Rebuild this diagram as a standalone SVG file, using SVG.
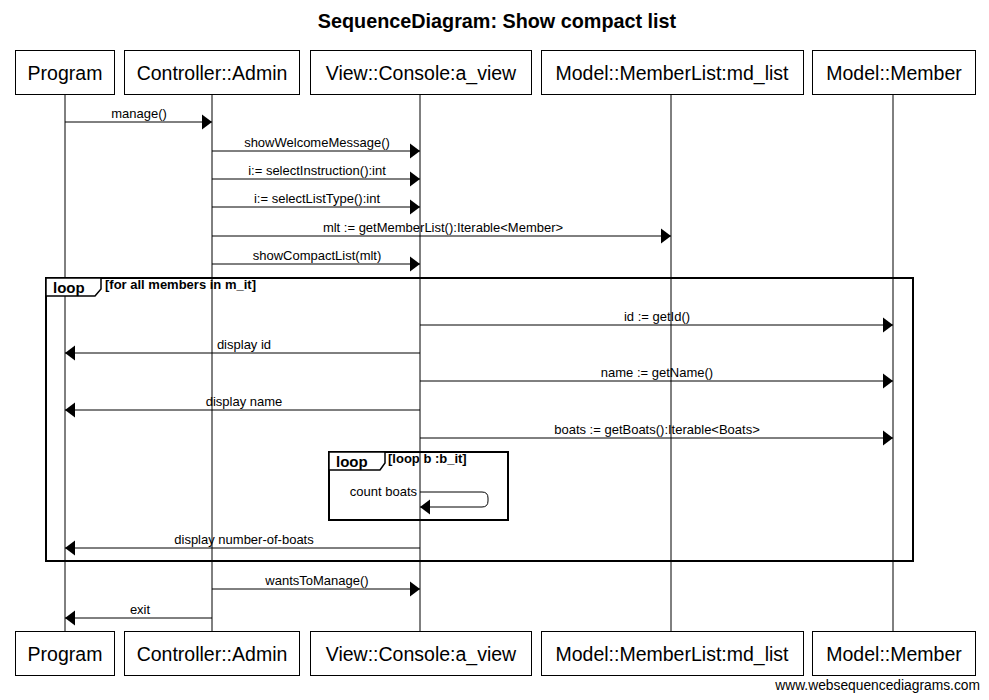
<svg xmlns="http://www.w3.org/2000/svg" width="989" height="700" viewBox="0 0 989 700">
<defs>
<marker id="ah" markerUnits="userSpaceOnUse" markerWidth="10" markerHeight="16" refX="10" refY="8" orient="auto">
<path d="M0,0.5 L10,8 L0,15.5 z" fill="#000"/>
</marker>
<style>
.box{fill:#fff;stroke:#000;stroke-width:1}
.pt{font-family:"Liberation Sans",Arial,sans-serif;font-size:19.5px;text-anchor:middle;fill:#000}
.life{stroke:#000;stroke-width:1}
.msg{stroke:#000;stroke-width:1;fill:none;marker-end:url(#ah)}
.ml{font-family:"Liberation Sans",Arial,sans-serif;font-size:13px;text-anchor:middle;fill:#000}
.frame{fill:none;stroke:#000;stroke-width:2}
.tab{fill:#fff;stroke:#000;stroke-width:1.5}
.tl{font-family:"Liberation Sans",Arial,sans-serif;font-size:15px;font-weight:bold;fill:#000}
.cond{font-family:"Liberation Sans",Arial,sans-serif;font-size:13px;font-weight:bold;fill:#000}
</style>
</defs>
<rect width="989" height="700" fill="#fff"/>
<text x="497" y="28" font-family="Liberation Sans,Arial,sans-serif" font-size="19.8" font-weight="bold" text-anchor="middle">SequenceDiagram: Show compact list</text>

<g id="lifelines">
<line class="life" x1="65" y1="94" x2="65" y2="632"/>
<line class="life" x1="212" y1="94" x2="212" y2="632"/>
<line class="life" x1="420" y1="94" x2="420" y2="632"/>
<line class="life" x1="671" y1="94" x2="671" y2="632"/>
<line class="life" x1="893" y1="94" x2="893" y2="632"/>
</g>

<g id="program">
<rect class="box" x="15.5" y="50.5" width="99" height="44"/>
<text class="pt" x="65" y="80">Program</text>
<rect class="box" x="15.5" y="631.5" width="99" height="44"/>
<text class="pt" x="65" y="661">Program</text>
</g>
<g id="controller">
<rect class="box" x="124.5" y="50.5" width="175" height="44"/>
<text class="pt" x="212" y="80">Controller::Admin</text>
<rect class="box" x="124.5" y="631.5" width="175" height="44"/>
<text class="pt" x="212" y="661">Controller::Admin</text>
</g>
<g id="view">
<rect class="box" x="310.5" y="50.5" width="221" height="44"/>
<text class="pt" x="421" y="80">View::Console:a_view</text>
<rect class="box" x="310.5" y="631.5" width="221" height="44"/>
<text class="pt" x="421" y="661">View::Console:a_view</text>
</g>
<g id="memberlist">
<rect class="box" x="541.5" y="50.5" width="262" height="44"/>
<text class="pt" x="672" y="80">Model::MemberList:md_list</text>
<rect class="box" x="541.5" y="631.5" width="262" height="44"/>
<text class="pt" x="672" y="661">Model::MemberList:md_list</text>
</g>
<g id="member">
<rect class="box" x="812.5" y="50.5" width="163" height="44"/>
<text class="pt" x="894" y="80">Model::Member</text>
<rect class="box" x="812.5" y="631.5" width="163" height="44"/>
<text class="pt" x="894" y="661">Model::Member</text>
</g>

<g id="outer-loop">
<rect class="frame" x="46" y="278" width="867" height="283"/>
<path class="tab" d="M46,278 H101 V289 L95,296 H46 z"/>
<text class="tl" x="53" y="293">loop</text>
<text class="cond" x="105" y="289">[for all members in m_it]</text>
</g>
<g id="inner-loop">
<rect class="frame" x="329" y="452" width="179" height="68"/>
<path class="tab" d="M329,452 H385 V463 L380,470 H329 z"/>
<text class="tl" x="336" y="467">loop</text>
<text class="cond" x="388" y="463">[loop b :b_it]</text>
</g>

<g id="connectors">
<line class="msg" x1="65" y1="122" x2="212" y2="122"/>
<text class="ml" x="139" y="118">manage()</text>
<line class="msg" x1="212" y1="151" x2="420" y2="151"/>
<text class="ml" x="317" y="147">showWelcomeMessage()</text>
<line class="msg" x1="212" y1="179" x2="420" y2="179"/>
<text class="ml" x="317" y="175">i:= selectInstruction():int</text>
<line class="msg" x1="212" y1="207" x2="420" y2="207"/>
<text class="ml" x="317" y="203">i:= selectListType():int</text>
<line class="msg" x1="212" y1="236" x2="671" y2="236"/>
<text class="ml" x="443" y="232">mlt := getMemberList():Iterable&lt;Member&gt;</text>
<line class="msg" x1="212" y1="264" x2="420" y2="264"/>
<text class="ml" x="317" y="260">showCompactList(mlt)</text>
<line class="msg" x1="420" y1="325" x2="893" y2="325"/>
<text class="ml" x="657" y="321">id := getId()</text>
<line class="msg" x1="420" y1="353" x2="65" y2="353"/>
<text class="ml" x="244" y="349">display id</text>
<line class="msg" x1="420" y1="381" x2="893" y2="381"/>
<text class="ml" x="657" y="377">name := getName()</text>
<line class="msg" x1="420" y1="410" x2="65" y2="410"/>
<text class="ml" x="244" y="406">display name</text>
<line class="msg" x1="420" y1="438" x2="893" y2="438"/>
<text class="ml" x="657" y="434">boats := getBoats():Iterable&lt;Boats&gt;</text>
<path class="msg" d="M420,492 H482 Q488,492 488,498 V501 Q488,507 482,507 H420"/>
<text class="ml" x="417" y="496" style="text-anchor:end">count boats</text>
<line class="msg" x1="420" y1="548" x2="65" y2="548"/>
<text class="ml" x="244" y="544">display number-of-boats</text>
<line class="msg" x1="212" y1="589" x2="420" y2="589"/>
<text class="ml" x="317" y="585">wantsToManage()</text>
<line class="msg" x1="212" y1="618" x2="65" y2="618"/>
<text class="ml" x="140" y="614">exit</text>
</g>

<text x="980" y="690" font-family="Liberation Sans,Arial,sans-serif" font-size="13.8" text-anchor="end">www.websequencediagrams.com</text>
</svg>
